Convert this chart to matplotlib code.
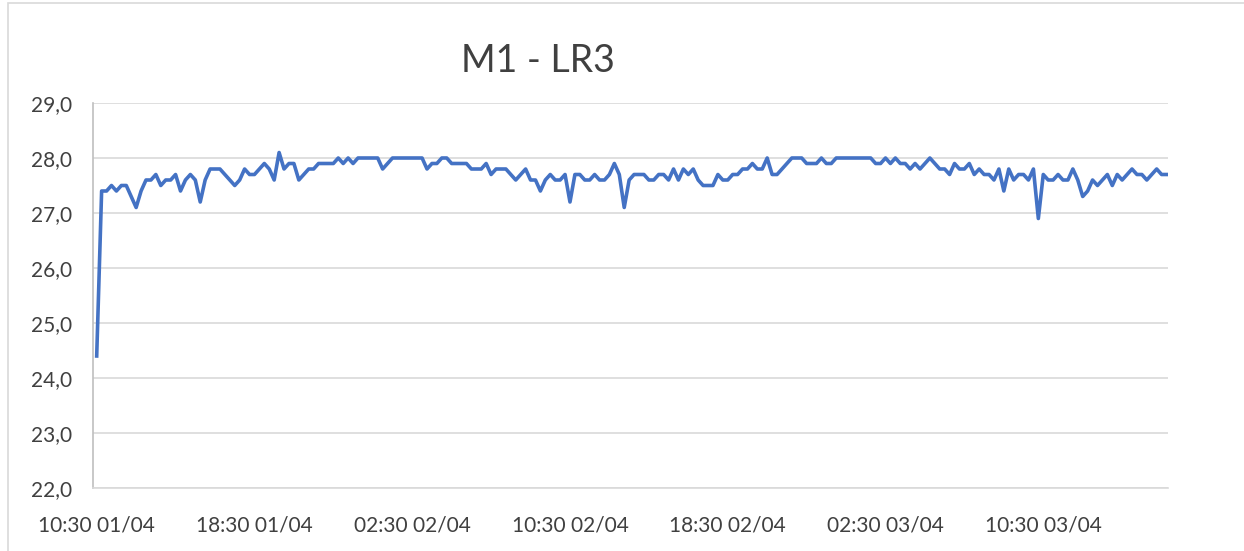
import matplotlib.pyplot as plt
import numpy as np
from matplotlib.patches import Rectangle

plt.rcParams['font.family'] = ['Lato', 'DejaVu Sans']

# 15-minute readings starting 10:30 01/04
temp = [
    24.4, 27.4, 27.4, 27.5, 27.4, 27.5, 27.5, 27.3, 27.1, 27.4,
    27.6, 27.6, 27.7, 27.5, 27.6, 27.6, 27.7, 27.4, 27.6, 27.7,
    27.6, 27.2, 27.6, 27.8, 27.8, 27.8, 27.7, 27.6, 27.5, 27.6,
    27.8, 27.7, 27.7, 27.8, 27.9, 27.8, 27.6, 28.1, 27.8, 27.9,
    27.9, 27.6, 27.7, 27.8, 27.8, 27.9, 27.9, 27.9, 27.9, 28.0,
    27.9, 28.0, 27.9, 28.0, 28.0, 28.0, 28.0, 28.0, 27.8, 27.9,
    28.0, 28.0, 28.0, 28.0, 28.0, 28.0, 28.0, 27.8, 27.9, 27.9,
    28.0, 28.0, 27.9, 27.9, 27.9, 27.9, 27.8, 27.8, 27.8, 27.9,
    27.7, 27.8, 27.8, 27.8, 27.7, 27.6, 27.7, 27.8, 27.6, 27.6,
    27.4, 27.6, 27.7, 27.6, 27.6, 27.7, 27.2, 27.7, 27.7, 27.6,
    27.6, 27.7, 27.6, 27.6, 27.7, 27.9, 27.7, 27.1, 27.6, 27.7,
    27.7, 27.7, 27.6, 27.6, 27.7, 27.7, 27.6, 27.8, 27.6, 27.8,
    27.7, 27.8, 27.6, 27.5, 27.5, 27.5, 27.7, 27.6, 27.6, 27.7,
    27.7, 27.8, 27.8, 27.9, 27.8, 27.8, 28.0, 27.7, 27.7, 27.8,
    27.9, 28.0, 28.0, 28.0, 27.9, 27.9, 27.9, 28.0, 27.9, 27.9,
    28.0, 28.0, 28.0, 28.0, 28.0, 28.0, 28.0, 28.0, 27.9, 27.9,
    28.0, 27.9, 28.0, 27.9, 27.9, 27.8, 27.9, 27.8, 27.9, 28.0,
    27.9, 27.8, 27.8, 27.7, 27.9, 27.8, 27.8, 27.9, 27.7, 27.8,
    27.7, 27.7, 27.6, 27.8, 27.4, 27.8, 27.6, 27.7, 27.7, 27.6,
    27.8, 26.9, 27.7, 27.6, 27.6, 27.7, 27.6, 27.6, 27.8, 27.6,
    27.3, 27.4, 27.6, 27.5, 27.6, 27.7, 27.5, 27.7, 27.6, 27.7,
    27.8, 27.7, 27.7, 27.6, 27.7, 27.8, 27.7, 27.7,
]

x_labels = ["10:30 01/04", "18:30 01/04", "02:30 02/04", "10:30 02/04",
            "18:30 02/04", "02:30 03/04", "10:30 03/04"]
y_ticks = [22, 23, 24, 25, 26, 27, 28, 29]
y_labels = ["22,0", "23,0", "24,0", "25,0", "26,0", "27,0", "28,0", "29,0"]

W, H = 1244, 551
fig = plt.figure(figsize=(W / 100, H / 100), dpi=100)
ax = fig.add_axes([93 / W, 1 - 488 / H, (1168 - 93) / W, (488 - 103) / H])

x = np.arange(len(temp))
ax.plot(x, temp, color='#4472C4', lw=2.6, solid_joinstyle='round', zorder=3)

ax.set_xlim(-0.75, len(temp) - 0.7)
ax.set_ylim(22, 29)
ax.set_xticks(x[::32][:len(x_labels)])
ax.set_xticklabels(x_labels)
ax.set_yticks(y_ticks)
ax.set_yticklabels(y_labels)

ax.grid(axis='y', color='#D9D9D9', lw=1.2)
ax.set_axisbelow(True)
for s in ['top', 'right']:
    ax.spines[s].set_visible(False)
ax.spines['left'].set_color('#BFBFBF')
ax.spines['bottom'].set_color('#D9D9D9')
ax.spines['left'].set_linewidth(1.2)
ax.spines['bottom'].set_linewidth(1.2)
ax.tick_params(axis='both', length=0, labelsize=15, colors='#404040')
ax.tick_params(axis='y', pad=15)
ax.tick_params(axis='x', pad=20)

fig.text(538 / W, 1 - 61 / H, "M1 - LR3", ha='center', va='center',
         fontsize=27, color='#404040')

# chart area border
fig.patches.append(Rectangle((8 / W, -0.1), 1.2, 1.1 - 3 / H, transform=fig.transFigure,
                             fill=False, edgecolor='#D9D9D9', lw=1.2))

fig.savefig("out.png", dpi=100)
plt.close(fig)
